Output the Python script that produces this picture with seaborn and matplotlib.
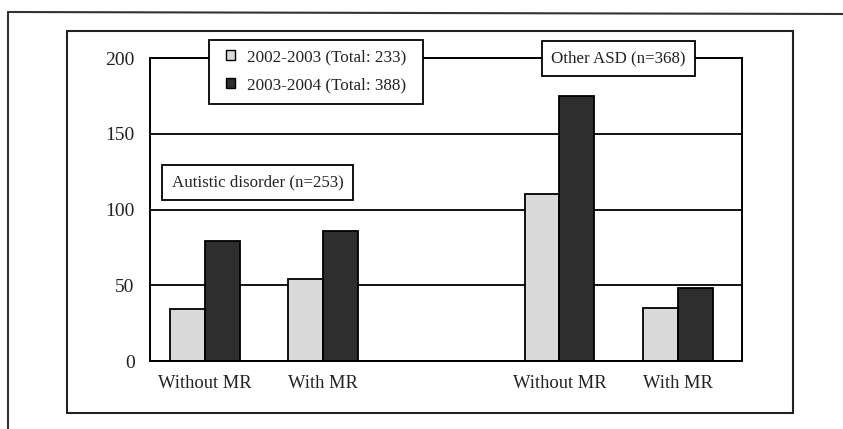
import numpy as np
import pandas as pd
import matplotlib
matplotlib.use("Agg")
import matplotlib.pyplot as plt
from matplotlib.lines import Line2D
from matplotlib.patches import Rectangle
import seaborn as sns

# data
diagnosis = ["Autistic disorder", "Autistic disorder", "Other ASD", "Other ASD"]
mr_status = ["Without MR", "With MR", "Without MR", "With MR"]
years = ["2002-2003 (Total: 233)", "2003-2004 (Total: 388)"]
counts_0203 = [34, 54, 110, 35]
counts_0304 = [79, 86, 175, 48]
yticks = [0, 50, 100, 150, 200]

rows = []
for d, m, a, b in zip(diagnosis, mr_status, counts_0203, counts_0304):
    key = d + " / " + m
    rows.append({"group": key, "year": years[0], "n": a})
    rows.append({"group": key, "year": years[1], "n": b})
df = pd.DataFrame(rows)

keys = [d + " / " + m for d, m in zip(diagnosis, mr_status)]
order = keys[:2] + [" "] + keys[2:]   # blank slot between the two diagnoses
tick_labels = mr_status[:2] + [""] + mr_status[2:]

sns.set_style("white")
plt.rcParams["font.family"] = ["Liberation Serif", "DejaVu Serif"]

W, H = 843, 429
fig = plt.figure(figsize=(W / 100, H / 100), dpi=100)
ax = fig.add_axes([150 / W, 1 - 361 / H, 592 / W, 303 / H])

sns.barplot(data=df, x="group", y="n", hue="year", order=order, hue_order=years,
            palette=["#dadada", "#2e2e2e"], edgecolor="black", linewidth=1.3,
            width=0.59, ax=ax, legend=True)

ax.set_ylim(0, 200)
ax.set_xlim(-0.462, 4.543)
ax.set_yticks(yticks)
ax.set_yticklabels([str(v) for v in yticks])
ax.set_xticks(range(len(order)))
ax.set_xticklabels(tick_labels)
ax.set_xlabel("")
ax.set_ylabel("")
ax.tick_params(axis="y", length=0, pad=11, labelsize=14, colors="#222222")
ax.tick_params(axis="x", length=0, pad=10, labelsize=13.3, colors="#222222")
ax.yaxis.grid(True, color="black", linewidth=1.3)
ax.set_axisbelow(True)
for s in ax.spines.values():
    s.set_visible(True)
    s.set_color("black")
    s.set_linewidth(1.4)

# legend: drawn at figure level inside its own box
handles, labels = ax.get_legend_handles_labels()
ax.get_legend().remove()
fig.add_artist(Rectangle((209 / W, 1 - 104 / H), 214 / W, 64 / H, transform=fig.transFigure,
                         facecolor="white", edgecolor="black", lw=1.3, zorder=4))
leg = fig.legend(handles, labels, loc="upper left",
                 bbox_to_anchor=(226 / W, 1 - 49 / H), bbox_transform=fig.transFigure,
                 frameon=False, fontsize=12.3,
                 handlelength=0.55, handleheight=0.55, handletextpad=0.7,
                 borderpad=0, labelspacing=0.72, borderaxespad=0)
leg.set_zorder(5)
for t in leg.get_texts():
    t.set_color("#222222")
for h in leg.legend_handles:
    h.set_edgecolor("black")
    h.set_linewidth(1.0)

# diagnosis boxes
box = dict(boxstyle="square,pad=0.55", facecolor="white", edgecolor="black", linewidth=1.3)
fig.text(257.5 / W, 1 - 182.5 / H, "Autistic disorder (n=253)", ha="center", va="center",
         fontsize=12.2, color="#222222", bbox=box, zorder=5)
fig.text(618.5 / W, 1 - 58.5 / H, "Other ASD (n=368)", ha="center", va="center",
         fontsize=12.2, color="#222222", bbox=box, zorder=5)

# scanned page frame lines
fig.add_artist(Line2D([8 / W, 1.0], [1 - 12 / H, 1 - 14 / H], color="#333333", lw=1.5))
fig.add_artist(Line2D([8 / W, 8 / W], [1 - 12 / H, 0], color="#333333", lw=1.5))
fig.add_artist(Rectangle((67 / W, 1 - 413 / H), (793 - 67) / W, (413 - 31) / H,
                         transform=fig.transFigure, fill=False, edgecolor="#222222", lw=1.5))

fig.savefig("out.png", dpi=100, facecolor="white")
